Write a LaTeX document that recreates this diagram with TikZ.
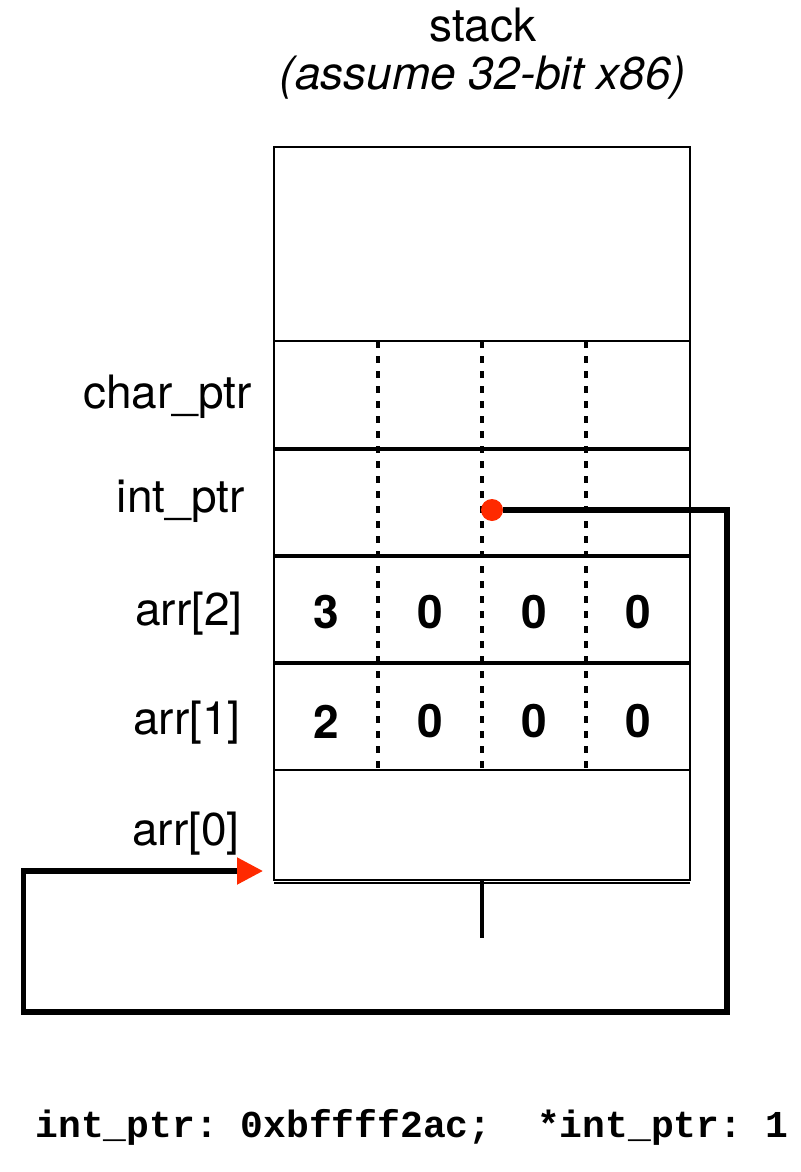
\documentclass[tikz,border=0pt]{standalone}
\usepackage{fontspec}
\setmainfont{TeX Gyre Heros}
\setmonofont{Liberation Mono}
\usepackage{tikz}
\usetikzlibrary{calc,arrows.meta}
\definecolor{ptrred}{HTML}{FF2A00}

\begin{document}
\begin{tikzpicture}[x=0.5pt,y=-0.5pt,
    cell/.style={draw,line width=1pt,minimum width=208pt,inner sep=0pt,outer sep=0pt},
    rowsep/.style={line width=2pt},
    bytesep/.style={line width=1.8pt,dash pattern=on 3.5pt off 4pt},
    lbl/.style={anchor=base east,inner sep=0pt,font=\fontsize{23}{26}\selectfont},
    byte/.style={inner sep=0pt,font=\fontsize{23}{26}\selectfont\bfseries},
    ptrdot/.style={circle,fill=ptrred,minimum size=11pt,inner sep=0pt},
    ptr/.style={line width=2.6pt,-{Triangle[length=13pt,width=13pt,color=ptrred]}}]
  \useasboundingbox (0,0) rectangle (800,1172);
  % title
  \node[anchor=base,inner sep=0pt,font=\fontsize{23}{26}\selectfont] (title) at (483,42) {stack};
  \node[anchor=base,inner sep=0pt,font=\fontsize{23}{26}\selectfont\itshape] (subtitle) at (483,90) {(assume 32-bit x86)};
  % stack rows
  \node[cell,minimum height=97pt] (top) at (482,244) {};
  \node[cell,minimum height=54pt] (charptr) at (482,395) {};
  \node[cell,minimum height=53.5pt] (intptr) at (482,502.5) {};
  \node[cell,minimum height=53.5pt] (arr2) at (482,609.5) {};
  \node[cell,minimum height=53.5pt] (arr1) at (482,716.5) {};
  \node[cell,minimum height=55pt] (arr0) at (482,825) {};
  \foreach \r in {intptr,arr2,arr1}
    \draw[rowsep] (\r.north west) -- (\r.north east);
  \draw[line width=1pt] ($(arr0.south west)+(0,3)$) -- ($(arr0.south east)+(0,3)$);
  \coordinate (stub) at ($(arr0.south)+(0,58)$);
  \draw[line width=1.6pt] (arr0.south) -- (stub);
  % byte boundaries
  \foreach \f in {0.25,0.5,0.75}
    \draw[bytesep] ($(charptr.north west)!\f!(charptr.north east)$) -- ($(arr1.south west)!\f!(arr1.south east)$);
  % values
  \foreach \v [count=\i] in {3,0,0,0}
    \node[byte] (arrtwo-\i) at ($(arr2.west)+(104*\i-52,3)$) {\v};
  \foreach \v [count=\i] in {2,0,0,0}
    \node[byte] (arrone-\i) at ($(arr1.west)+(104*\i-52,5)$) {\v};
  % labels
  \node[lbl] (l-charptr) at (252,408) {char\_ptr};
  \node[lbl] (l-intptr) at (245,512) {int\_ptr};
  \node[lbl] (l-arr2) at (243,625) {arr[2]};
  \node[lbl] (l-arr1) at (241,734) {arr[1]};
  \node[lbl] (l-arr0) at (240,845) {arr[0]};
  % pointer
  \node[ptrdot] (dot) at (492,510) {};
  \coordinate (tip) at (263,871);
  \draw[ptr] (dot.east) -| (727,1012) -| (23.5,871) -- (tip);
  % output line
  \node[anchor=base west,inner sep=0pt,font=\fontsize{19}{22}\selectfont\ttfamily\bfseries] (output) at (35,1137)
    {int\_ptr:\ 0xbffff2ac;\ \ *int\_ptr:\ 1};
\end{tikzpicture}
\end{document}
